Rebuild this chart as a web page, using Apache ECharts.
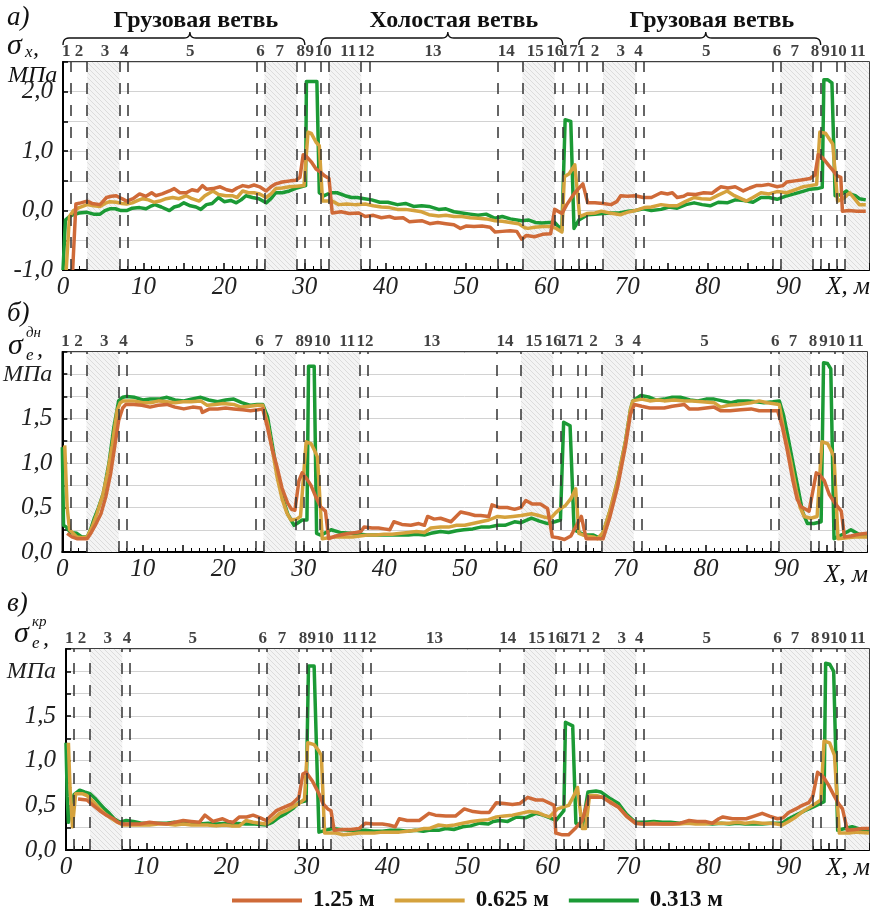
<!DOCTYPE html>
<html><head><meta charset="utf-8">
<script src="https://cdn.jsdelivr.net/npm/echarts@6/dist/echarts.min.js"></script>
<style>html,body{margin:0;padding:0;background:#fff}#c{width:872px;height:906px}</style>
</head><body><div id="c"></div>
<script>
// ---------------- DATA ----------------
const seriesNames = ['1,25 м', '0,625 м', '0,313 м'];
const colors = ['#cf6a38', '#d5a23d', '#1b9a35'];
const boundaries = [1,3,7,8,24,25,29,30,32,33,37,38,54,57,61,62,64,65,67,71,72,88,89,93,94,96,97];
const hatched = [[3,7],[25,29],[33,37],[57,61],[67,71],[89,93],[97,100]];
const sectionNames = ['1','2','3','4','5','6','7','8','9','10','11','12','13','14','15','16','17','1','2','3','4','5','6','7','8','9','10','11'];
const sectionLabelX = [0.4,2.0,5.2,7.6,15.8,24.5,26.9,29.5,30.6,32.3,35.4,37.6,45.9,55.0,58.6,61.0,62.8,64.3,66.0,69.2,71.4,79.8,88.6,90.8,93.3,94.6,96.2,98.6];
const branches = [['Грузовая ветвь',0,30],['Холостая ветвь',32,62],['Грузовая ветвь',64,94]];
const xTickLabels = [0,10,20,30,40,50,60,70,80,90];

// Panel a: sigma_x
const sx_125 = [[1.2,-1.0],[1.6,0.11],[2.2,0.13],[3,0.16],[3.6,0.12],[4.6,0.1],[5.4,0.22],[6,0.24],[6.6,0.25],[7.3,0.2],[7.9,0.16],[8.7,0.2],[9.5,0.28],[10.3,0.24],[11,0.3],[11.5,0.25],[12.3,0.28],[13.2,0.33],[13.8,0.37],[14.5,0.3],[15.3,0.3],[16,0.35],[16.7,0.33],[17.3,0.42],[17.8,0.36],[18.6,0.37],[19.5,0.4],[20.3,0.35],[21,0.33],[21.6,0.38],[22.3,0.42],[23,0.4],[23.7,0.43],[24.4,0.4],[25.2,0.33],[25.8,0.4],[26.4,0.45],[27.2,0.48],[28.2,0.5],[28.9,0.51],[29.4,0.56],[29.8,0.94],[30.2,0.91],[30.8,0.82],[31.4,0.7],[31.9,0.65],[32.5,0.58],[33,0.54],[33.4,-0.04],[34.5,-0.02],[35.5,-0.05],[36.7,-0.04],[37.5,-0.1],[38.5,-0.08],[39.5,-0.12],[40.5,-0.1],[41.2,-0.13],[42.2,-0.12],[43,-0.19],[43.7,-0.18],[44.5,-0.17],[45.5,-0.22],[46.5,-0.2],[47.5,-0.22],[48.5,-0.24],[49.3,-0.3],[50,-0.26],[51,-0.27],[52,-0.26],[53,-0.28],[53.6,-0.36],[54.5,-0.35],[55.5,-0.34],[56.3,-0.35],[56.9,-0.48],[57.5,-0.42],[58.5,-0.44],[59.5,-0.4],[60.5,-0.39],[61,0.02],[61.9,-0.05],[62.5,0.1],[63.5,0.3],[64.5,0.45],[65.1,0.13],[66,0.13],[67,0.12],[68,0.1],[68.7,0.15],[69.2,0.25],[70,0.24],[71,0.25],[72,0.22],[73,0.22],[74.2,0.3],[75,0.28],[75.6,0.3],[76.2,0.22],[77,0.24],[77.5,0.28],[78.5,0.27],[79.5,0.3],[80.5,0.29],[81.1,0.35],[81.6,0.4],[82.5,0.38],[83.4,0.4],[84.4,0.33],[85.2,0.38],[86,0.42],[86.6,0.42],[87.5,0.44],[88.6,0.4],[89.3,0.42],[89.8,0.48],[90.8,0.5],[91.8,0.52],[92.7,0.54],[93.3,0.6],[93.7,0.94],[94.3,0.88],[95,0.76],[95.5,0.68],[96,0.59],[96.5,0.56],[96.7,-0.01],[97.5,0.0],[98.5,-0.01],[99.6,-0.01]];
const sx_0625 = [[0.4,-1.0],[0.8,-0.1],[1.3,0.0],[2,0.05],[3,0.1],[3.8,0.08],[4.6,0.07],[5.2,0.12],[5.8,0.15],[6.6,0.14],[7.3,0.12],[7.9,0.11],[8.6,0.13],[9.3,0.17],[9.9,0.2],[10.6,0.18],[11.3,0.14],[12,0.16],[12.8,0.2],[13.6,0.22],[14.4,0.2],[15.3,0.25],[16,0.2],[16.9,0.16],[17.6,0.25],[18.6,0.33],[19.3,0.27],[20.2,0.25],[21,0.25],[21.6,0.22],[22.3,0.33],[23,0.3],[23.7,0.3],[24.4,0.28],[25.2,0.22],[25.8,0.28],[26.4,0.37],[27.2,0.38],[28.1,0.4],[29,0.41],[29.9,0.42],[30.4,1.32],[30.8,1.3],[31.4,1.15],[31.8,1.09],[32.2,0.16],[33.4,0.16],[34.2,0.1],[35.2,0.11],[36.2,0.1],[37.5,0.11],[38.5,0.08],[39.5,0.06],[40.5,0.05],[41.5,0.02],[42.5,0.02],[43.5,0.0],[44.5,-0.02],[45.4,-0.07],[46.6,-0.09],[47.5,-0.08],[48.5,-0.1],[49.5,-0.1],[50.5,-0.12],[51.5,-0.13],[52.5,-0.14],[53.6,-0.17],[54.5,-0.18],[55.5,-0.2],[56.5,-0.22],[57.3,-0.29],[57.7,-0.3],[58.5,-0.28],[59.5,-0.27],[60.5,-0.27],[61.2,-0.3],[61.9,-0.36],[62.2,0.57],[62.8,0.62],[63.5,0.77],[64.1,-0.1],[65,-0.05],[66,-0.04],[66.8,-0.01],[67.8,-0.04],[69.2,-0.07],[70,-0.03],[71,0.0],[72.1,0.05],[73,0.06],[74.2,0.1],[75.2,0.08],[76.2,0.08],[77.2,0.15],[78.3,0.22],[79.2,0.2],[80.3,0.19],[81.3,0.26],[82.4,0.33],[83.3,0.25],[84.8,0.16],[85.6,0.22],[86.6,0.3],[87.6,0.28],[88.6,0.32],[89.8,0.3],[90.8,0.35],[91.8,0.4],[92.7,0.42],[93.5,0.44],[93.9,1.32],[94.6,1.3],[95.1,1.2],[95.5,1.12],[96.1,0.16],[96.8,0.2],[97.6,0.3],[98.2,0.2],[98.8,0.1],[99.6,0.1]];
const sx_0313 = [[0,-1.0],[0.3,-0.16],[0.8,-0.1],[1.25,-0.07],[2,-0.04],[3,-0.03],[3.8,-0.06],[4.6,-0.06],[5.2,0.0],[5.8,0.03],[6.5,0.03],[7.2,0.0],[7.9,0.0],[8.6,0.04],[9.5,0.05],[10.3,0.03],[11,0.08],[11.4,0.1],[12.2,0.06],[13.2,0.0],[13.8,0.06],[14.4,0.08],[15,0.13],[15.8,0.08],[16.5,0.06],[17.1,0.02],[17.8,0.1],[18.5,0.12],[19.3,0.22],[20,0.15],[20.8,0.17],[21.5,0.13],[22.1,0.18],[22.7,0.25],[23.5,0.22],[24.3,0.2],[25.2,0.13],[25.8,0.2],[26.4,0.3],[27.2,0.3],[28.1,0.33],[29,0.38],[30.1,0.42],[30.2,2.17],[31.5,2.17],[31.8,0.3],[32.4,0.25],[33.2,0.3],[34,0.3],[35,0.25],[35.8,0.22],[36.5,0.22],[37.4,0.2],[38.3,0.18],[39.3,0.14],[40.3,0.14],[41.5,0.1],[42.5,0.12],[43.5,0.07],[44.5,0.08],[45.4,0.07],[46.6,0.02],[47.5,0.03],[48.5,-0.02],[49.5,-0.04],[50.5,-0.06],[51.5,-0.08],[52.5,-0.06],[53.6,-0.13],[54.5,-0.1],[55.5,-0.14],[56.9,-0.17],[57.8,-0.16],[58.6,-0.2],[59.4,-0.21],[60.3,-0.2],[61,-0.2],[61.9,-0.33],[62.3,1.53],[63,1.5],[63.4,-0.3],[64,-0.16],[65.1,-0.07],[66,-0.06],[67,-0.05],[68,-0.04],[69,-0.04],[70.1,-0.01],[71,0.0],[72,0.03],[73,0.0],[74.2,0.02],[75.2,0.06],[76.2,0.04],[77.3,0.1],[78.3,0.13],[79.3,0.1],[80.3,0.08],[81.3,0.14],[82.4,0.13],[83.4,0.18],[84.5,0.17],[85.6,0.14],[86.6,0.22],[87.6,0.22],[88.6,0.19],[89.6,0.24],[90.7,0.28],[91.7,0.32],[92.7,0.36],[93.6,0.37],[94.2,0.39],[94.4,2.2],[94.9,2.2],[95.4,2.15],[95.8,0.25],[96.6,0.27],[97.2,0.33],[97.6,0.28],[98.3,0.25],[98.8,0.2],[99.6,0.18]];

// Panel b: sigma_e dn
const se_125 = [[0.6,0.21],[1.2,0.17],[1.8,0.15],[2.5,0.15],[3.1,0.15],[3.6,0.22],[4.2,0.32],[4.8,0.43],[5.4,0.62],[6,0.88],[6.5,1.18],[7,1.48],[7.5,1.62],[7.9,1.66],[8.9,1.66],[9.9,1.65],[10.9,1.63],[11.9,1.65],[13,1.66],[14,1.63],[15.1,1.61],[16.2,1.63],[17.2,1.62],[17.4,1.57],[18.3,1.61],[19.3,1.61],[20.3,1.62],[21.3,1.61],[22.4,1.6],[23.4,1.59],[24.3,1.6],[24.9,1.61],[25.5,1.4],[26.1,1.15],[26.7,0.95],[27.3,0.72],[28,0.55],[28.5,0.48],[28.9,0.47],[29.4,0.8],[29.8,0.89],[30.4,0.82],[30.9,0.75],[31.5,0.62],[32.1,0.51],[32.7,0.46],[33.1,0.15],[34,0.18],[35,0.2],[35.8,0.21],[36.5,0.22],[37.1,0.23],[37.5,0.28],[38.5,0.27],[39.3,0.27],[40,0.26],[40.7,0.25],[41.2,0.34],[42.2,0.31],[43.3,0.3],[44.3,0.32],[45,0.3],[45.4,0.4],[46.2,0.37],[47,0.38],[48.3,0.34],[49.5,0.45],[50.5,0.43],[51.3,0.41],[52,0.41],[53,0.4],[53.4,0.53],[54.3,0.5],[55.3,0.5],[56.2,0.48],[57,0.5],[57.6,0.58],[58.4,0.54],[59.4,0.54],[60.3,0.49],[60.9,0.17],[61.6,0.16],[62.4,0.14],[63.2,0.18],[63.9,0.3],[64.5,0.4],[65.1,0.15],[66,0.15],[67.2,0.15],[68,0.38],[69,0.73],[70,1.2],[70.6,1.55],[71.1,1.66],[72,1.64],[73,1.62],[74.8,1.62],[75.8,1.64],[77.3,1.66],[77.9,1.61],[79,1.61],[80,1.62],[81,1.63],[81.8,1.59],[83,1.59],[84.3,1.6],[85.6,1.61],[86.6,1.59],[87.6,1.59],[88.9,1.59],[89.5,1.4],[90.1,1.14],[90.8,0.8],[91.3,0.6],[91.8,0.51],[92.8,0.46],[93.3,0.7],[93.7,0.89],[94.2,0.86],[94.7,0.8],[95.3,0.65],[96,0.55],[96.8,0.46],[97.2,0.17],[98,0.18],[99,0.2],[100,0.21]];
const se_0625 = [[0.3,1.2],[0.6,0.5],[0.9,0.25],[1.8,0.17],[2.5,0.16],[3.1,0.17],[3.7,0.28],[4.3,0.43],[5,0.63],[5.6,0.88],[6.2,1.2],[6.8,1.59],[7.2,1.68],[7.6,1.7],[8.9,1.7],[10,1.68],[11,1.68],[12,1.7],[13,1.69],[14,1.68],[15,1.69],[16,1.69],[17.2,1.7],[18,1.65],[19,1.66],[20,1.67],[21.3,1.66],[22.2,1.63],[23.3,1.64],[24.3,1.65],[24.9,1.65],[25.5,1.45],[26.1,1.15],[26.7,0.84],[27.3,0.6],[27.9,0.44],[28.4,0.36],[29.1,0.37],[29.6,0.4],[30.3,1.24],[30.9,1.22],[31.3,1.15],[31.7,1.07],[32.3,0.15],[33.8,0.17],[35,0.17],[36,0.17],[37,0.18],[37.9,0.19],[39,0.19],[40,0.2],[41,0.2],[42.1,0.21],[43,0.22],[44,0.23],[45,0.22],[45.8,0.27],[47,0.28],[48,0.28],[49,0.3],[50,0.3],[51,0.32],[52,0.34],[53,0.36],[54.1,0.4],[55,0.39],[56,0.4],[57,0.41],[58.3,0.43],[59.2,0.41],[60,0.39],[60.7,0.38],[61.3,0.44],[61.9,0.49],[62.5,0.52],[63.2,0.6],[63.8,0.71],[64.2,0.21],[65,0.18],[66,0.17],[66.5,0.15],[67.2,0.22],[68,0.45],[69,0.8],[70,1.25],[70.6,1.6],[70.9,1.7],[72,1.72],[73,1.7],[74,1.71],[74.8,1.7],[76,1.71],[77.3,1.7],[78.3,1.7],[79.5,1.69],[81,1.68],[81.8,1.63],[82.8,1.65],[84,1.66],[85.6,1.68],[86.6,1.7],[87.6,1.68],[89.1,1.66],[89.7,1.35],[90.5,1.03],[91.2,0.7],[91.7,0.5],[92.2,0.4],[93,0.38],[93.8,0.4],[94.4,1.24],[95.1,1.22],[95.5,1.15],[95.9,1.07],[96.4,0.15],[97.5,0.16],[98.5,0.17],[100,0.17]];
const se_0313 = [[0,1.18],[0.15,0.3],[0.5,0.28],[1,0.22],[1.8,0.21],[2.4,0.17],[3.1,0.17],[3.5,0.25],[3.9,0.36],[4.5,0.5],[5.1,0.66],[5.8,1.0],[6.4,1.4],[7,1.7],[7.5,1.74],[8,1.75],[9,1.74],[10,1.71],[10.9,1.72],[12,1.72],[13,1.74],[14,1.71],[15.1,1.7],[16,1.72],[17.2,1.74],[18.2,1.71],[19.3,1.69],[20.3,1.71],[21.3,1.72],[22.3,1.68],[23.4,1.65],[24.2,1.66],[24.9,1.66],[25.5,1.52],[26.1,1.2],[26.7,0.88],[27.4,0.6],[28,0.43],[28.8,0.3],[29.3,0.33],[29.8,0.36],[30.4,0.36],[30.6,2.09],[31.3,2.09],[31.6,0.21],[32.1,0.19],[32.8,0.22],[33.4,0.25],[34.5,0.22],[35.8,0.21],[37,0.2],[37.9,0.19],[39,0.19],[40,0.19],[41,0.19],[42.1,0.19],[43,0.19],[44,0.2],[45,0.19],[45.8,0.21],[47,0.23],[48,0.22],[49,0.24],[49.9,0.25],[51,0.26],[52,0.28],[53,0.28],[54.1,0.3],[55,0.3],[56.2,0.34],[57,0.33],[58.3,0.38],[59.2,0.35],[60.3,0.32],[61.2,0.34],[61.9,0.36],[62.3,1.46],[63.1,1.42],[63.6,0.25],[64.9,0.19],[66,0.19],[66.9,0.15],[67.5,0.3],[68.2,0.5],[69,0.8],[70,1.25],[70.6,1.6],[70.9,1.7],[71.9,1.76],[73,1.74],[73.8,1.71],[74.8,1.72],[75.8,1.74],[76.9,1.74],[78,1.71],[79,1.7],[80,1.72],[81,1.72],[82,1.7],[83.1,1.68],[84,1.7],[85.2,1.7],[86.2,1.69],[87.2,1.68],[88.3,1.69],[89.1,1.7],[89.6,1.55],[90.1,1.33],[90.8,1.0],[91.4,0.73],[92,0.45],[92.6,0.32],[93.4,0.32],[94.3,0.34],[94.6,2.13],[95.1,2.12],[95.5,2.06],[95.9,0.15],[97,0.2],[98,0.25],[99,0.2],[100,0.19]];

// Panel c: sigma_e kr
const ke_125 = [[1.5,0.57],[2.6,0.56],[3.4,0.5],[4.2,0.44],[5,0.39],[5.9,0.35],[6.5,0.31],[7.1,0.29],[8,0.29],[9.2,0.29],[10.4,0.31],[11.4,0.3],[12.5,0.29],[13.6,0.31],[14.6,0.33],[15.6,0.32],[16.6,0.31],[17.3,0.39],[18.3,0.32],[19.5,0.35],[20.2,0.32],[20.8,0.31],[21.6,0.37],[22.5,0.37],[23.3,0.39],[24.2,0.36],[24.9,0.33],[25.5,0.38],[26.2,0.44],[27.2,0.48],[28.2,0.52],[29,0.59],[29.5,0.85],[29.9,0.87],[30.7,0.77],[31.5,0.63],[32,0.52],[32.6,0.46],[33,0.44],[33.4,0.22],[34.5,0.23],[35.5,0.23],[36.5,0.24],[37.3,0.3],[38.3,0.29],[39.4,0.29],[40.2,0.28],[41,0.26],[41.5,0.35],[42.5,0.33],[43.3,0.33],[44,0.33],[45.2,0.41],[46,0.39],[47.3,0.38],[48.5,0.38],[49.6,0.46],[50.7,0.43],[51.7,0.42],[52.7,0.42],[53.6,0.53],[54.6,0.52],[55.6,0.51],[56.5,0.52],[57.5,0.59],[58.5,0.56],[59.4,0.56],[60.8,0.5],[61,0.19],[61.8,0.17],[62.6,0.17],[63.5,0.25],[64.3,0.33],[65.1,0.59],[66,0.59],[66.8,0.59],[67.8,0.53],[68.8,0.48],[69.8,0.38],[70.9,0.3],[72,0.29],[73.2,0.29],[74.3,0.29],[75.5,0.29],[76.5,0.3],[77.6,0.33],[78.6,0.32],[79.6,0.32],[80.5,0.3],[81.3,0.35],[81.8,0.37],[83,0.35],[84,0.35],[84.7,0.35],[85.7,0.38],[86.7,0.41],[87.6,0.38],[88.6,0.35],[89.3,0.36],[90,0.42],[90.9,0.46],[91.7,0.5],[92.5,0.53],[93,0.6],[93.6,0.87],[94.3,0.82],[95,0.72],[95.7,0.6],[96.2,0.52],[96.7,0.46],[97.3,0.22],[98.3,0.23],[99.2,0.24],[100,0.24]];
const ke_0625 = [[0.3,1.2],[0.5,0.7],[0.8,0.26],[1.2,0.63],[2,0.63],[2.6,0.61],[3.4,0.54],[4.2,0.46],[4.8,0.41],[5.4,0.37],[6.2,0.32],[7.1,0.28],[8,0.28],[9.2,0.28],[10.4,0.28],[11.5,0.29],[12.5,0.29],[13.6,0.28],[14.6,0.29],[15.6,0.28],[16.6,0.28],[17.6,0.28],[18.7,0.27],[19.7,0.28],[20.6,0.27],[21.6,0.27],[22.4,0.33],[23.3,0.31],[24.2,0.3],[24.9,0.29],[25.7,0.34],[26.6,0.41],[27.4,0.44],[28.2,0.48],[29,0.52],[29.7,0.57],[30.1,1.2],[30.9,1.18],[31.4,1.12],[31.8,1.06],[32.2,0.19],[33.6,0.19],[34.5,0.17],[35.5,0.18],[36.5,0.19],[37.3,0.19],[38.4,0.19],[39.4,0.2],[40.5,0.2],[41.5,0.2],[42.5,0.21],[43.6,0.22],[44.6,0.24],[45.2,0.24],[46.4,0.28],[47.4,0.27],[48.4,0.28],[49.4,0.3],[50.5,0.32],[51.5,0.33],[52.6,0.34],[53.6,0.37],[54.6,0.38],[55.6,0.39],[56.6,0.41],[57.7,0.43],[58.7,0.42],[59.5,0.39],[60.2,0.37],[61.2,0.46],[62.6,0.5],[63.2,0.6],[63.7,0.7],[64.3,0.24],[64.7,0.24],[65.2,0.61],[66,0.61],[66.8,0.59],[67.8,0.54],[68.8,0.48],[69.8,0.38],[70.9,0.3],[72,0.29],[73.2,0.3],[74.3,0.29],[75.3,0.29],[76.4,0.29],[77.4,0.3],[78.4,0.29],[79.5,0.29],[80.5,0.3],[81.5,0.3],[82.6,0.3],[83.6,0.31],[84.6,0.3],[85.6,0.31],[86.7,0.3],[87.7,0.3],[88.5,0.29],[89.2,0.28],[90,0.32],[90.9,0.37],[91.9,0.44],[93,0.5],[94,0.56],[94.4,1.22],[95.1,1.2],[95.4,1.13],[95.7,1.06],[96.3,0.19],[97.5,0.19],[98.5,0.2],[100,0.19]];
const ke_0313 = [[0,1.2],[0.15,0.6],[0.3,0.31],[0.6,0.45],[1,0.62],[1.7,0.67],[2.3,0.65],[3,0.63],[3.6,0.58],[4.2,0.52],[4.8,0.46],[5.4,0.41],[6,0.35],[6.7,0.31],[7.5,0.33],[8.4,0.32],[9.4,0.3],[10.4,0.3],[11.4,0.3],[12.5,0.3],[13.5,0.31],[14.3,0.3],[15,0.31],[15.8,0.3],[16.6,0.29],[17.7,0.3],[18.8,0.29],[19.9,0.3],[20.9,0.3],[22.4,0.29],[23.5,0.29],[24.9,0.28],[25.7,0.31],[26.6,0.37],[27.4,0.41],[28.2,0.46],[29,0.53],[29.9,0.55],[30.2,2.06],[30.9,2.06],[31.5,0.2],[32.3,0.22],[33.2,0.24],[34.2,0.23],[35.3,0.22],[36.3,0.22],[37.3,0.22],[38.3,0.21],[39.4,0.21],[40.4,0.22],[41.5,0.22],[42.5,0.21],[43.5,0.22],[44.5,0.21],[45.2,0.22],[46.4,0.22],[47.3,0.24],[48.3,0.23],[49.4,0.26],[50.4,0.27],[51.5,0.3],[52.6,0.29],[53.2,0.32],[54,0.33],[55,0.32],[56.1,0.37],[57.2,0.36],[58.5,0.41],[59.4,0.39],[60.3,0.36],[61,0.33],[62,0.44],[62.2,1.43],[63.1,1.39],[63.5,0.3],[64.3,0.26],[65,0.65],[66,0.66],[66.6,0.65],[67.7,0.58],[68.8,0.52],[69.8,0.4],[70.9,0.31],[72,0.31],[73.2,0.32],[74.3,0.31],[75.3,0.31],[76.4,0.3],[77.4,0.31],[78.4,0.3],[79.5,0.3],[80.5,0.29],[81.6,0.3],[82.6,0.29],[83.6,0.3],[84.6,0.29],[85.7,0.29],[86.7,0.29],[87.8,0.3],[89.2,0.3],[90,0.35],[90.9,0.39],[92,0.44],[93,0.48],[94.4,0.54],[94.6,2.09],[95.1,2.08],[95.6,2.0],[96.1,0.22],[97,0.24],[97.9,0.26],[99,0.23],[100,0.22]];

const panelData = [[sx_125, sx_0625, sx_0313],[se_125, se_0625, se_0313],[ke_125, ke_0625, ke_0313]];

// ---------------- CHART ----------------
const SERIF = 'Liberation Serif';
const chart = echarts.init(document.getElementById('c'), null, {renderer: 'canvas'});

// hatch pattern
const pc = document.createElement('canvas');
pc.width = 5; pc.height = 5;
const pctx = pc.getContext('2d');
pctx.fillStyle = '#f4f4f4'; pctx.fillRect(0,0,5,5);
pctx.strokeStyle = '#dcdcdc'; pctx.lineWidth = 1;
pctx.beginPath(); pctx.moveTo(0,0); pctx.lineTo(5,5); pctx.moveTo(-2.5,2.5); pctx.lineTo(2.5,7.5); pctx.moveTo(2.5,-2.5); pctx.lineTo(7.5,2.5); pctx.stroke();

const grids = [
  {left: 63, right: 1, top: 62, height: 208},
  {left: 62, right: 5, top: 352, height: 200},
  {left: 66, right: 1, top: 649, height: 201}
];
const yRanges = [
  {min: -1, max: 2.5, interval: 0.5},
  {min: 0, max: 2.25, interval: 0.25},
  {min: 0, max: 2.25, interval: 0.25}
];
function fmtNum(v){ return v.toFixed(1).replace('.', ','); }

const option = {
  animation: false,
  backgroundColor: '#fff',
  grid: grids.map(g => Object.assign({show: true, borderColor: '#000', borderWidth: 1.5, backgroundColor: 'transparent'}, g)),
  xAxis: grids.map((g, i) => ({
    type: 'value', gridIndex: i, min: 0, max: 100, interval: 5,
    axisLine: {onZero: false, lineStyle: {color: '#000', width: 2}},
    axisTick: {inside: true, length: 7, lineStyle: {color: '#000', width: 1.5}},
    minorTick: {show: true, splitNumber: 5, length: 4, lineStyle: {color: '#000', width: 1}},
    splitLine: {show: false},
    axisLabel: {
      margin: 5, fontFamily: SERIF, fontStyle: 'italic', fontSize: 25, color: '#222',
      formatter: v => xTickLabels.indexOf(v) >= 0 ? String(v) : ''
    }
  })),
  yAxis: yRanges.map((r, i) => ({
    type: 'value', gridIndex: i, min: r.min, max: r.max, interval: r.interval,
    axisLine: {onZero: false, lineStyle: {color: '#000', width: 2}},
    axisTick: {inside: true, length: 5, lineStyle: {color: '#000', width: 1.5}},
    splitLine: {show: true, lineStyle: {color: '#d2d2d2', width: 1}},
    axisLabel: {
      margin: 10, fontFamily: SERIF, fontStyle: 'italic', fontSize: 25, color: '#222',
      formatter: v => {
        if (Math.abs(v - Math.round(v*2)/2) < 1e-9 && (i === 0 ? Number.isInteger(v) && v < 2.5 : v <= 1.5)) return fmtNum(v);
        if (i > 0 && Math.abs(v - 2) < 1e-9) return '{u|МПа}';
        return '';
      },
      rich: {u: {fontFamily: SERIF, fontStyle: 'italic', fontSize: 24, color: '#222'}}
    }
  })),
  legend: {
    data: seriesNames, left: 227, top: 884, itemWidth: 70, itemHeight: 4, itemGap: 20, icon: 'rect',
    selectedMode: false,
    textStyle: {fontFamily: SERIF, fontWeight: 'bold', fontSize: 23, color: '#111', padding: [0,0,0,6]}
  },
  series: []
};

for (let gi = 0; gi < 3; gi++) {
  option.series.push({
    type: 'line', name: 'marks' + gi, xAxisIndex: gi, yAxisIndex: gi, data: [], z: 1, silent: true,
    markArea: {silent: true, itemStyle: {color: {image: pc, repeat: 'repeat'}},
      data: hatched.map(h => [{xAxis: h[0]}, {xAxis: h[1]}])},
    markLine: {silent: true, symbol: 'none', label: {show: false},
      lineStyle: {color: '#333', type: [11, 11], width: 1.5},
      data: boundaries.map(b => ({xAxis: b}))}
  });
  option.series.push({
    type: 'scatter', name: 'sec' + gi, xAxisIndex: gi, yAxisIndex: gi, symbolSize: 0, clip: false, silent: true, z: 5,
    data: sectionLabelX.map((x, k) => ({value: [x, yRanges[gi].max], name: sectionNames[k]})),
    label: {show: true, position: 'top', distance: 2, formatter: p => p.name,
      fontFamily: SERIF, fontWeight: 'bold', fontSize: 17, color: '#111'}
  });
  for (let s = 2; s >= 0; s--) {
    option.series.push({
      type: 'line', name: seriesNames[s], xAxisIndex: gi, yAxisIndex: gi,
      data: panelData[gi][s], symbol: 'none', showSymbol: false, z: 3 + (2 - s) * 0.1,
      lineStyle: {color: colors[s], width: 3.5, join: 'round'}, itemStyle: {color: colors[s]}
    });
  }
}
chart.setOption(option);

// ---------------- ANNOTATIONS ----------------
const g = [];
function txt(x, y, text, font, align) {
  g.push({type: 'text', x: x, y: y, silent: true,
    style: {text: text, fill: '#111', font: font, align: align || 'left', verticalAlign: 'middle'}});
}
const it = (size) => 'italic ' + size + 'px "' + SERIF + '"';
txt(7, 18, 'а)', it(27));
txt(7, 314, 'б)', it(27));
txt(7, 604, 'в)', it(27));
txt(7, 46, 'σ', it(30)); txt(25, 53, 'x', it(17)); txt(33, 49, ',', it(24));
txt(8, 76, 'МПа', it(24));
txt(8, 346, 'σ', it(30)); txt(26, 333, 'дн', it(15)); txt(26, 356, 'e', it(17)); txt(37, 350, ',', it(24));
txt(14, 634, 'σ', it(30)); txt(32, 622, 'кр', it(15)); txt(32, 644, 'e', it(17)); txt(43, 639, ',', it(24));
[[0, 287], [1, 575], [2, 868]].forEach(([gi, y]) => {
  const p = chart.convertToPixel({gridIndex: gi}, [100, 0]);
  txt(p[0] + 1, y, 'X, м', it(25), 'right');
});
function quad(p0, p1, p2, n) {
  const out = [];
  for (let k = 0; k <= n; k++) {
    const t = k / n, u = 1 - t;
    out.push([u*u*p0[0] + 2*u*t*p1[0] + t*t*p2[0], u*u*p0[1] + 2*u*t*p1[1] + t*t*p2[1]]);
  }
  return out;
}
branches.forEach(([name, x0, x1]) => {
  const a = chart.convertToPixel({gridIndex: 0}, [x0, 0])[0];
  const b = chart.convertToPixel({gridIndex: 0}, [x1, 0])[0];
  const c = (a + b) / 2 + 6;
  const yl = 38, ye = 45, yp = 32;
  const pts = [].concat(
    quad([a, ye], [a, yl], [a + 6, yl], 6),
    quad([c - 6, yl], [c, yl], [c, yp], 6),
    quad([c, yp], [c, yl], [c + 6, yl], 6),
    quad([b - 6, yl], [b, yl], [b, ye], 6)
  );
  g.push({type: 'polyline', silent: true, shape: {points: pts}, style: {stroke: '#111', lineWidth: 1.4, fill: null}});
  txt(c + 6, 21, name, 'bold 24px "' + SERIF + '"', 'center');
});
chart.setOption({graphic: g});
</script></body></html>
